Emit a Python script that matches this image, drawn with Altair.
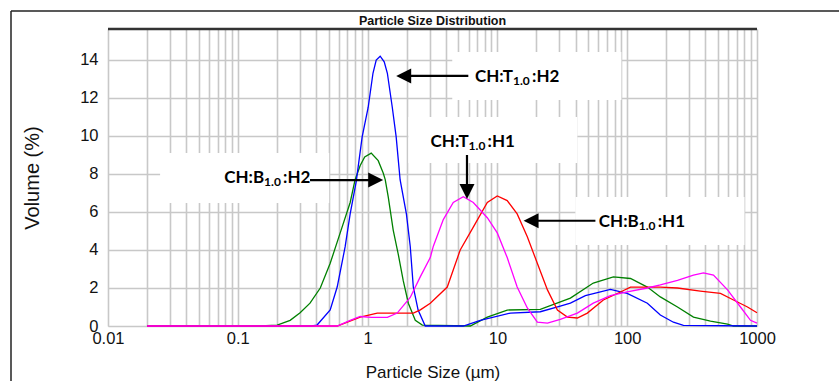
import altair as alt
import pandas as pd

# ---------------- data ----------------
series_names = ["CH:B1.0:H2", "CH:T1.0:H2", "CH:B1.0:H1", "CH:T1.0:H1"]
series_colors = ["#008000", "#0000ff", "#ff0000", "#ff00ff"]

green_x = [0.02, 0.149, 0.201, 0.253, 0.302, 0.360, 0.432, 0.515, 0.615, 0.734,
           0.801, 0.877, 0.95, 1.066, 1.207, 1.319, 1.367, 1.442, 1.575, 1.72,
           1.88, 2.06, 2.33, 2.64, 6.18, 8.36, 11.9, 21.4, 36.5, 54.8,
           78.3, 106, 143, 180, 244, 324, 438, 593, 659, 1000]
green_y = [0, 0, 0.05, 0.3, 0.7, 1.2, 2.0, 3.3, 4.9, 6.5,
           7.7, 8.45, 8.9, 9.1, 8.7, 8.05, 7.7, 6.8, 5.05, 3.8,
           2.4, 1.2, 0.3, 0.05, 0, 0.47, 0.84, 0.88, 1.47, 2.26,
           2.58, 2.5, 2.05, 1.53, 1.0, 0.47, 0.26, 0.1, 0, 0]

blue_x = [0.02, 0.37, 0.408, 0.515, 0.583, 0.671, 0.734, 0.817, 0.908, 1.01,
          1.10, 1.165, 1.25, 1.343, 1.42, 1.55, 1.66, 1.78, 1.99, 2.13,
          2.25, 2.45, 2.78, 5.46, 7.38, 12.6, 21.4, 30.5, 36.5, 47.6,
          74.2, 100, 143, 180, 227, 271, 1000]
blue_y = [0, 0, 0.05, 0.84, 2.05, 4.16, 5.9, 7.6, 9.95, 11.5,
          13.3, 14.0, 14.2, 13.9, 13.3, 11.5, 9.95, 7.7, 5.9, 4.2,
          2.05, 0.84, 0, 0, 0.3, 0.68, 0.75, 1.05, 1.2, 1.6,
          1.93, 1.72, 1.2, 0.58, 0.2, 0.03, 0]

red_x = [0.02, 0.583, 0.877, 1.186, 2.25, 2.55, 3.04, 4.11, 5.17, 6.52,
         8.36, 9.98, 11.9, 14.2, 17.0, 20.3, 24.3, 29.0, 34.6, 41.3,
         49.3, 65.5, 88.7, 106, 180, 244, 366, 523, 659, 845, 1000]
red_y = [0, 0, 0.47, 0.68, 0.68, 0.85, 1.2, 2.05, 4.0, 5.2,
         6.5, 6.84, 6.6, 5.9, 4.7, 3.3, 1.9, 0.84, 0.47, 0.42,
         0.68, 1.37, 1.79, 2.05, 2.05, 2.0, 1.84, 1.72, 1.37, 1.0, 0.7]

magenta_x = [0.02, 0.583, 0.734, 0.877, 1.07, 1.42, 1.69, 2.13, 2.55, 3.04,
             3.21, 3.83, 4.57, 5.46, 6.52, 8.36, 9.98, 11.9, 14.2, 17.0,
             20.3, 24.3, 30.5, 41.3, 54.8, 74.2, 100, 143, 180, 244,
             324, 387, 462, 593, 746, 891, 1000]
magenta_y = [0, 0, 0.3, 0.5, 0.45, 0.45, 0.68, 1.5, 2.6, 3.6,
             4.2, 5.6, 6.5, 6.8, 6.5, 5.7, 4.9, 3.6, 2.05, 0.95,
             0.2, 0.15, 0.35, 0.68, 1.2, 1.6, 1.8, 2.0, 2.16, 2.4,
             2.68, 2.8, 2.68, 1.9, 1.0, 0.3, 0.15]

x_ticks = [0.01, 0.1, 1, 10, 100, 1000]
y_ticks = [0, 2, 4, 6, 8, 10, 12, 14]
chart_title = "Particle Size Distribution"

# annotation boxes / arrows / labels (data coordinates)
box_x1 = [4.49, 0.0252, 2.06, 39.9]
box_x2 = [90.2, 0.506, 41.3, 801]
box_y1 = [14.42, 9.11, 11.0, 6.79]
box_y2 = [11.89, 6.47, 8.58, 4.26]

arrow_x1 = [5.97, 0.360, 5.83, 56.9]
arrow_y1 = [13.16, 7.68, 9.0, 5.54]
arrow_x2 = [1.95, 1.144, 5.83, 18.2]
arrow_y2 = [13.16, 7.68, 7.16, 5.54]
head_x = [1.66, 1.319, 5.83, 15.9]
head_y = [13.16, 7.68, 6.68, 5.54]
head_dir = ["left", "right", "down", "left"]

label_main = ["CH:T", "CH:B", "CH:T", "CH:B"]
label_sub = ["1.0", "1.0", "1.0", "1.0"]
label_tail = [":H2", ":H2", ":H1", ":H1"]
label_x = [13.19, 0.1595, 6.0, 122.7]
label_y = [12.83, 7.51, 9.44, 5.19]

# ---------------- build ----------------
W, H = 649, 297
x_scale = alt.Scale(type="log", domain=[0.01, 1000], nice=False)
y_scale = alt.Scale(domain=[0, 15.63], nice=False, zero=False)

grid_vals = sorted(set(round(k * 10 ** d, 6) for d in range(-2, 3) for k in range(1, 10))) + [1000]

x_axis = alt.Axis(
    values=grid_vals,
    labelExpr="indexof([0.01,0.1,1,10,100,1000], datum.value) >= 0 ? format(datum.value, '~g') : ''",
    grid=True, ticks=False, domain=False, labelFlush=False, labelOverlap=False,
    labelFont="Liberation Sans", labelFontSize=16.5, labelColor="#111", labelPadding=4,
    title="Particle Size (µm)", titleFont="Liberation Sans", titleFontSize=17,
    titleFontWeight="normal", titleColor="#111", titleX=W / 2, titleY=51.5,
    titleBaseline="alphabetic", titleAnchor="middle", titleAlign="center",
    gridColor="#c8c8c8", gridWidth=1.6,
)
y_axis = alt.Axis(
    values=y_ticks, grid=True, ticks=False, domain=False,
    labelFont="Liberation Sans", labelFontSize=16.5, labelColor="#111", labelPadding=10,
    title="Volume (%)", titleFont="Liberation Sans", titleFontSize=20,
    titleFontWeight="normal", titleColor="#111", titleX=-76, titleY=H / 2,
    titleAngle=-90, titleBaseline="middle", titleAlign="center",
    gridColor="#c8c8c8", gridWidth=1.6,
)

frames = []
for name, xs, ys in [
    (series_names[0], green_x, green_y),
    (series_names[1], blue_x, blue_y),
    (series_names[2], red_x, red_y),
    (series_names[3], magenta_x, magenta_y),
]:
    frames.append(pd.DataFrame({"size": xs, "volume": ys, "series": name}))

color_scale = alt.Scale(domain=series_names, range=series_colors)

boxes_df = pd.DataFrame({"x1": box_x1, "x2": box_x2, "y1": box_y1, "y2": box_y2})
boxes = alt.Chart(boxes_df).mark_rect(color="white").encode(
    x=alt.X("x1:Q", scale=x_scale, axis=x_axis),
    x2="x2:Q",
    y=alt.Y("y1:Q", scale=y_scale, axis=y_axis),
    y2="y2:Q",
)

line_layers = []
for df in frames:
    line_layers.append(
        alt.Chart(df).mark_line(strokeWidth=1.3).encode(
            x=alt.X("size:Q", scale=x_scale, axis=x_axis),
            y=alt.Y("volume:Q", scale=y_scale, axis=y_axis),
            color=alt.Color("series:N", scale=color_scale, legend=None),
        )
    )

arrows_df = pd.DataFrame({"x1": arrow_x1, "y1": arrow_y1, "x2": arrow_x2, "y2": arrow_y2})
arrows = alt.Chart(arrows_df).mark_rule(color="black", strokeWidth=2.2).encode(
    x=alt.X("x1:Q", scale=x_scale), x2="x2:Q",
    y=alt.Y("y1:Q", scale=y_scale), y2="y2:Q",
)

heads_df = pd.DataFrame({"x": head_x, "y": head_y, "dir": head_dir})
heads = alt.Chart(heads_df).mark_point(filled=True, color="black", opacity=1, size=225, strokeWidth=0).encode(
    x=alt.X("x:Q", scale=x_scale),
    y=alt.Y("y:Q", scale=y_scale),
    shape=alt.Shape("dir:N", scale=alt.Scale(
        domain=["left", "right", "down"],
        range=["M0,0 L2,-1 L2,1 Z", "M0,0 L-2,-1 L-2,1 Z", "M0,0 L-1,-2 L1,-2 Z"]), legend=None),
)

labels_df = pd.DataFrame({"x": label_x, "y": label_y, "main": label_main,
                          "sub": label_sub, "tail": label_tail})
base_lab = alt.Chart(labels_df).encode(
    x=alt.X("x:Q", scale=x_scale), y=alt.Y("y:Q", scale=y_scale))
lab_main = base_lab.mark_text(align="right", baseline="alphabetic", font="Lato",
                              fontWeight="bold", fontSize=17, color="black").encode(text="main:N")
lab_sub = base_lab.mark_text(align="left", baseline="alphabetic", font="Lato", dx=0, dy=3,
                             fontWeight="bold", fontSize=12, color="black").encode(text="sub:N")
lab_tail = base_lab.mark_text(align="left", baseline="alphabetic", font="Lato", dx=19,
                              fontWeight="bold", fontSize=17, color="black").encode(text="tail:N")

one = pd.DataFrame({"t": [chart_title]})
title_mark = alt.Chart(one).mark_text(
    font="Liberation Sans", fontWeight="bold", fontSize=12.5, color="#111",
    align="center", baseline="alphabetic",
).encode(x=alt.value(W / 2), y=alt.value(-4), text="t:N")
top_rule = alt.Chart(one).mark_rule(color="#333333", strokeWidth=2.5).encode(
    x=alt.value(0), x2=alt.value(W), y=alt.value(0))
frame_left = alt.Chart(one).mark_rule(color="#222222", strokeWidth=1.5).encode(
    x=alt.value(-97), y=alt.value(-18), y2=alt.value(360))
frame_top = alt.Chart(one).mark_rule(color="#222222", strokeWidth=1.5).encode(
    x=alt.value(-97), x2=alt.value(735), y=alt.value(-18))

chart = alt.layer(
    boxes, *line_layers, arrows, heads, lab_main, lab_sub, lab_tail,
    top_rule, frame_left, frame_top, title_mark,
).properties(
    width=W, height=H,
    autosize=alt.AutoSizeParams(type="none"),
    padding={"left": 108, "top": 29, "right": 82, "bottom": 55},
).configure_view(
    stroke="#a0a0a0", strokeWidth=2,
).configure(background="white")

chart.save("out.html", embed_options={"renderer": "svg", "actions": False})
